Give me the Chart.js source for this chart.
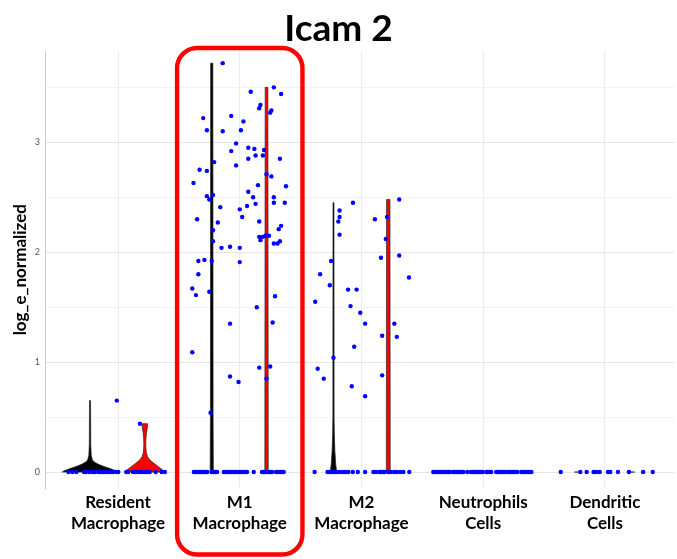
<!DOCTYPE html>
<html><head><meta charset="utf-8">
<script src="https://cdn.jsdelivr.net/npm/chart.js@4.4.1/dist/chart.umd.min.js"></script>
<style>html,body{margin:0;padding:0;background:#fff;overflow:hidden}#wrap{width:677px;height:559px;position:relative}</style>
</head><body><div id="wrap"><canvas id="c" width="677" height="559"></canvas></div>
<script>
// ---- data ----
const categories = [['Resident','Macrophage'],['M1','Macrophage'],['M2','Macrophage'],['Neutrophils','Cells'],['Dendritic','Cells']];
const categoryPositions = [1,2,3,4,5];
const yTickValues = [0,0.5,1,1.5,2,2.5,3,3.5];
const titleText = 'Icam 2';
const yAxisTitle = 'log_e_normalized';

// blue jitter points: [horizontal jitter (category units), value]
const residentPoints = [[-0.01,0.65],[0.18,0.44],
 [-0.407,0],[-0.375,0],[-0.342,0],[-0.279,0],[-0.265,0],[-0.238,0],[-0.211,0],[-0.189,0],[-0.161,0],[-0.142,0],[-0.123,0],[-0.101,0],[-0.080,0],[-0.060,0],[-0.041,0],[-0.014,0],[0.002,0],
 [0.068,0],[0.084,0],[0.123,0],[0.145,0],[0.166,0],[0.186,0],[0.205,0],[0.221,0],[0.240,0],[0.260,0],[0.309,0],[0.358,0],[0.385,0]];
const m1Points = [[-0.14,3.72],[0.09,3.46],[0.28,3.50],[0.34,3.44],[0.17,3.34],[0.16,3.31],[0.26,3.29],[0.25,3.27],[-0.30,3.22],[-0.07,3.24],[0.03,3.19],[-0.27,3.11],[-0.14,3.10],[0.01,3.11],[-0.03,2.99],[-0.07,2.92],[0.07,2.95],[0.12,2.94],[0.20,2.93],[0.07,2.85],[0.13,2.88],[0.19,2.88],[0.33,2.85],[-0.21,2.82],[-0.03,2.79],[-0.33,2.75],[-0.27,2.74],[-0.38,2.63],[0.22,2.71],[0.26,2.69],[0.15,2.61],[0.38,2.60],[0.07,2.55],[-0.27,2.51],[-0.22,2.52],[-0.25,2.48],[0.11,2.50],[0.28,2.50],[0.28,2.45],[0.37,2.45],[0.13,2.44],[-0.16,2.41],[0.00,2.39],[0.06,2.42],[0.02,2.32],[-0.35,2.30],[-0.18,2.27],[0.16,2.28],[0.34,2.24],[0.32,2.21],[-0.22,2.20],[-0.22,2.10],[0.16,2.14],[0.17,2.11],[0.19,2.14],[0.21,2.15],[0.24,2.15],[0.28,2.08],[0.31,2.08],[0.33,2.10],[-0.15,2.04],[-0.08,2.05],[0.00,2.04],[-0.34,1.92],[-0.29,1.93],[-0.23,1.92],[0.00,1.91],[-0.34,1.80],[-0.39,1.67],[-0.36,1.61],[-0.25,1.64],[0.29,1.60],[0.14,1.50],[-0.08,1.35],[0.27,1.36],[-0.39,1.09],[0.16,0.95],[0.25,0.96],[-0.08,0.87],[-0.01,0.82],[0.22,0.85],[-0.24,0.54],
 [-0.377,0],[-0.363,0],[-0.350,0],[-0.336,0],[-0.322,0],[-0.309,0],[-0.295,0],[-0.281,0],[-0.268,0],[-0.232,0],[-0.213,0],[-0.199,0],[-0.186,0],[-0.131,0],[-0.117,0],[-0.104,0],[-0.090,0],[-0.076,0],[-0.063,0],[-0.049,0],[-0.035,0],[-0.022,0],[-0.008,0],[0.006,0],[0.025,0],[0.041,0],[0.060,0],[0.115,0],[0.183,0],[0.197,0],[0.210,0],[0.224,0],[0.238,0],[0.252,0],[0.265,0],[0.298,0],[0.314,0],[0.334,0],[0.347,0],[0.361,0]];
const m2Points = [[-0.07,2.45],[-0.18,2.38],[-0.18,2.32],[-0.19,2.28],[-0.18,2.16],[0.11,2.30],[0.21,2.32],[0.31,2.48],[0.20,2.12],[-0.25,1.92],[0.16,1.95],[0.31,1.97],[-0.34,1.80],[0.39,1.77],[-0.26,1.70],[-0.11,1.66],[-0.04,1.66],[-0.38,1.55],[-0.09,1.51],[-0.01,1.45],[0.03,1.35],[0.27,1.35],[0.17,1.24],[0.29,1.23],[-0.06,1.14],[-0.23,1.04],[-0.36,0.94],[-0.31,0.85],[0.17,0.88],[-0.08,0.78],[0.03,0.69],
 [-0.385,0],[-0.279,0],[-0.262,0],[-0.243,0],[-0.230,0],[-0.216,0],[-0.202,0],[-0.180,0],[-0.153,0],[-0.134,0],[-0.107,0],[-0.071,0],[-0.030,0],[0.030,0],[0.098,0],[0.120,0],[0.148,0],[0.158,0],[0.175,0],[0.191,0],[0.221,0],[0.240,0],[0.268,0],[0.289,0],[0.317,0],[0.344,0],[0.393,0]];
const neutrophilPoints = [[-0.410,0],[-0.396,0],[-0.383,0],[-0.369,0],[-0.355,0],[-0.342,0],[-0.328,0],[-0.314,0],[-0.301,0],[-0.287,0],[-0.273,0],[-0.246,0],[-0.232,0],[-0.219,0],[-0.205,0],[-0.191,0],[-0.178,0],[-0.164,0],[-0.131,0],[-0.101,0],[-0.087,0],[-0.074,0],[-0.060,0],[-0.046,0],[-0.033,0],[-0.019,0],[-0.005,0],[0.025,0],[0.038,0],[0.052,0],[0.066,0],[0.107,0],[0.120,0],[0.134,0],[0.148,0],[0.161,0],[0.175,0],[0.199,0],[0.213,0],[0.227,0],[0.240,0],[0.254,0],[0.268,0],[0.281,0],[0.314,0],[0.328,0],[0.342,0],[0.355,0],[0.369,0],[0.383,0],[0.396,0]];
const dendriticPoints = [[-0.363,0],[-0.202,0],[-0.150,0],[-0.093,0],[-0.071,0],[-0.043,0],[0.025,0],[0.044,0],[0.107,0],[0.197,0],[0.314,0],[0.393,0]];
const pointsByCategory = [residentPoints, m1Points, m2Points, neutrophilPoints, dendriticPoints];

// violin outlines: [value, half width (category units)]
const residentBlackViolin = [[0,0.228],[0.01,0.215],[0.03,0.17],[0.05,0.115],[0.07,0.07],[0.09,0.038],[0.11,0.02],[0.15,0.01],[0.25,0.006],[0.5,0.005],[0.65,0.004]];
const residentRedViolin = [[0,0.168],[0.02,0.145],[0.05,0.11],[0.08,0.075],[0.11,0.042],[0.14,0.022],[0.18,0.012],[0.24,0.008],[0.3,0.009],[0.36,0.014],[0.41,0.022],[0.44,0.022]];
const m1BlackViolin = [[0,0.013],[0.5,0.011],[3.72,0.009]];
const m1RedViolin = [[0,0.014],[3.5,0.011]];
const m2BlackViolin = [[0,0.026],[0.08,0.018],[0.2,0.011],[0.35,0.007],[0.5,0.005],[2.45,0.004]];
const m2RedViolin = [[0,0.016],[2.48,0.014]];
const dendriticBlackViolin = [[0,0.02],[0,0.02]];
const dendriticRedViolin = [[0,0.024],[0,0.024]];
const groupOffsets = {black:-0.23, red:0.22};
const violins = [
  [1,'black',residentBlackViolin],[1,'red',residentRedViolin],
  [2,'black',m1BlackViolin],[2,'red',m1RedViolin],
  [3,'black',m2BlackViolin],[3,'red',m2RedViolin],
  [5,'black',dendriticBlackViolin],[5,'red',dendriticRedViolin]
];
const highlightedCategory = 2;

// ---- chart ----
Chart.defaults.font.family = 'Lato, "Open Sans", sans-serif';

const violinPlugin = {
  id: 'violins',
  beforeDatasetsDraw(chart) {
    const {ctx, scales:{x, y}} = chart;
    ctx.save();
    violins.forEach(([cat, group, shape]) => {
      const c = cat + groupOffsets[group];
      ctx.beginPath();
      shape.forEach(([v, hw], i) => {
        const px = x.getPixelForValue(c + hw), py = y.getPixelForValue(v);
        if (i === 0) ctx.moveTo(px, py); else ctx.lineTo(px, py);
      });
      for (let i = shape.length - 1; i >= 0; i--) {
        const [v, hw] = shape[i];
        ctx.lineTo(x.getPixelForValue(c - hw), y.getPixelForValue(v));
      }
      ctx.closePath();
      ctx.fillStyle = group === 'black' ? '#000000' : '#ff0000';
      ctx.fill();
      ctx.lineWidth = 0.9;
      ctx.strokeStyle = 'rgba(40,40,40,0.8)';
      ctx.stroke();
    });
    ctx.restore();
  }
};

const highlightPlugin = {
  id: 'highlight',
  afterDraw(chart) {
    const {ctx, scales:{x}} = chart;
    const l = x.getPixelForValue(highlightedCategory - 0.515);
    const r = x.getPixelForValue(highlightedCategory + 0.515);
    const t = 48, b = 554.5, rad = 20;
    ctx.save();
    ctx.beginPath();
    ctx.roundRect(l, t, r - l, b - t, rad);
    ctx.lineWidth = 4.4;
    ctx.strokeStyle = '#ff0000';
    ctx.stroke();
    ctx.restore();
  }
};

const datasets = pointsByCategory.map((pts, i) => ({
  label: categories[i].join(' '),
  data: pts.map(([j, v]) => ({x: categoryPositions[i] + j, y: v})),
  backgroundColor: '#0000ff',
  borderColor: '#0000ff',
  borderWidth: 0,
  pointRadius: 2.2,
  pointHoverRadius: 2.2
}));

new Chart(document.getElementById('c'), {
  type: 'scatter',
  data: { datasets },
  options: {
    responsive: false,
    devicePixelRatio: 1,
    animation: false,
    layout: { padding: 0 },
    plugins: {
      legend: { display: false },
      tooltip: { enabled: false },
      title: {
        display: true, text: titleText, color: '#000',
        font: { size: 37, weight: 'bold' },
        padding: { top: 7, bottom: 0 }
      }
    },
    scales: {
      x: {
        type: 'linear', min: 0.4, max: 5.574,
        afterBuildTicks: s => { s.ticks = categoryPositions.map(v => ({value: v})); },
        afterFit: s => { s.height = 71; },
        ticks: {
          autoSkip: false, maxRotation: 0, padding: 4,
          color: '#000', font: { size: 17, weight: 'bold', lineHeight: 1.24 },
          callback: v => categories[Math.round(v) - 1]
        },
        grid: { color: '#ebebeb', drawTicks: false },
        border: { display: false }
      },
      y: {
        min: -0.145, max: 3.827,
        afterBuildTicks: s => { s.ticks = yTickValues.map(v => ({value: v})); },
        afterFit: s => { s.width = 45; },
        ticks: {
          padding: 5, color: '#555', font: { size: 9 },
          callback: v => (Number.isInteger(v) ? String(v) : '')
        },
        grid: {
          drawTicks: false,
          color: c => (c.tick && Number.isInteger(c.tick.value) ? '#e6e6e6' : '#f3f3f3')
        },
        border: { display: true, color: '#cccccc', width: 1 },
        title: {
          display: true, text: yAxisTitle, color: '#000',
          font: { size: 17, weight: 'bold' },
          padding: { top: 10, bottom: 0 }
        }
      }
    }
  },
  plugins: [violinPlugin, highlightPlugin]
});
</script>
</body></html>
